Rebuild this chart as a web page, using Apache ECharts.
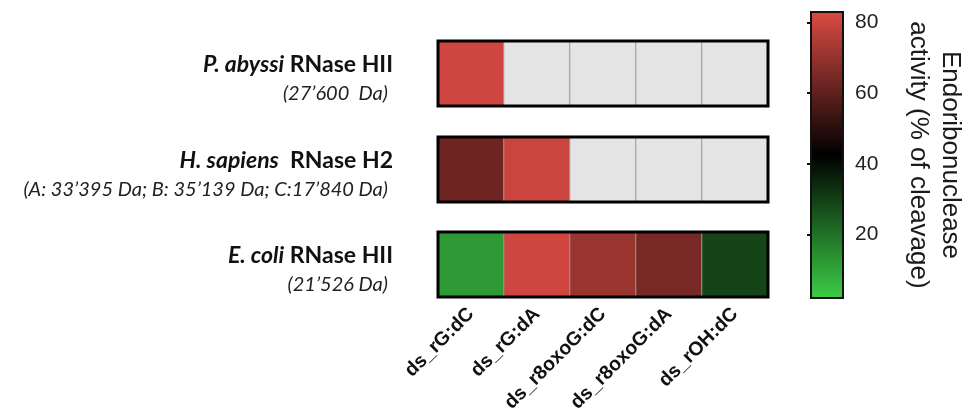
<!DOCTYPE html>
<html>
<head>
<meta charset="utf-8">
<script src="https://cdn.jsdelivr.net/npm/echarts@6/dist/echarts.min.js"></script>
<style>
html, body { margin: 0; padding: 0; background: #fff; }
#main { width: 964px; height: 409px; }
</style>
</head>
<body>
<div id="main"></div>
<script>
// substrates (columns)
var categories = ['ds_rG:dC', 'ds_rG:dA', 'ds_r8oxoG:dC', 'ds_r8oxoG:dA', 'ds_rOH:dC'];
// cleavage % per enzyme, null = not tested (grey)
var pAbyssi = [81, null, null, null, null];
var hSapiens = [63, 80, null, null, null];
var eColi = [12, 81, 71, 65, 29];
var enzymes = [
	{ sp: 'P. abyssi', name: ' RNase HII', sub: '(27’600  Da)' },
	{ sp: 'H. sapiens', name: '  RNase H2', sub: '(A: 33’395 Da; B: 35’139 Da; C:17’840 Da)' },
	{ sp: 'E. coli', name: ' RNase HII', sub: '(21’526 Da)' }
];
var rows = [pAbyssi, hSapiens, eColi];
var barTicks = [20, 40, 60, 80];
var scaleMin = 2, scaleMax = 83;

var myChart = echarts.init(document.getElementById('main'));

var gridTops = [41, 137, 232];
var grids = [], xAxes = [], yAxes = [], series = [];
for (var r = 0; r < rows.length; r++) {
	grids.push({
		left: 438, width: 330, top: gridTops[r], height: 65,
		outerBoundsMode: 'none',
		show: true, borderColor: '#000', borderWidth: 3,
		backgroundColor: 'transparent', z: 10
	});
	xAxes.push({
		type: 'category', gridIndex: r, data: categories,
		axisLine: { show: false }, axisTick: { show: false },
		splitLine: { show: false },
		axisLabel: {
			show: r == rows.length - 1,
			rotate: 45, margin: 14,
			fontFamily: 'Liberation Sans', fontWeight: 'bold',
			fontSize: 19.5, color: '#111'
		}
	});
	yAxes.push({
		type: 'category', gridIndex: r, data: [r],
		axisLine: { show: false }, axisTick: { show: false },
		axisLabel: {
			margin: 45,
			padding: [12, 0, 0, 0],
			formatter: (function (e) {
				return function () {
					return '{sp|' + e.sp + '}{nm|' + e.name + '}\n{sub|' + e.sub + '}';
				};
			})(enzymes[r]),
			rich: {
				sp: { fontFamily: 'Lato', fontStyle: 'italic', fontWeight: 'bold', fontSize: 23, color: '#111', lineHeight: 29 },
				nm: { fontFamily: 'Lato', fontWeight: 'bold', fontSize: 23, color: '#111', lineHeight: 29 },
				sub: { fontFamily: 'Lato', fontStyle: 'italic', fontSize: 20, color: '#222', lineHeight: 29, padding: [0, 5, 0, 0] }
			}
		}
	});
	var vals = [], grey = [];
	for (var i = 0; i < categories.length; i++) {
		if (rows[r][i] == null) grey.push([i, 0, 1]);
		else vals.push([i, 0, rows[r][i]]);
	}
	series.push({
		type: 'heatmap', xAxisIndex: r, yAxisIndex: r, data: vals,
		itemStyle: { borderColor: '#999', borderWidth: 1 },
		emphasis: { disabled: true }
	});
	series.push({
		type: 'heatmap', xAxisIndex: r, yAxisIndex: r, data: grey,
		itemStyle: { color: '#e4e4e4', borderColor: '#999', borderWidth: 1 },
		emphasis: { disabled: true }
	});
}

// colour bar frame + ticks
grids.push({
	left: 811, width: 32, top: 12, height: 286,
	outerBoundsMode: 'none',
	show: true, borderColor: '#111', borderWidth: 2,
	backgroundColor: 'transparent', z: 10
});
xAxes.push({ type: 'value', gridIndex: 3, show: false });
yAxes.push({
	type: 'value', gridIndex: 3, position: 'right',
	min: scaleMin, max: scaleMax,
	axisLine: { show: false },
	splitLine: { show: false },
	axisTick: { inside: true, length: 4, customValues: barTicks, lineStyle: { color: '#111', width: 2 } },
	axisLabel: { customValues: barTicks, margin: 12, fontFamily: 'Liberation Sans', fontSize: 21, color: '#222' },
	name: 'Endoribonuclease\nactivity (% of cleavage)',
	nameLocation: 'middle', nameRotate: -90, nameGap: 59,
	nameTextStyle: { fontFamily: 'Liberation Sans', fontSize: 26, color: '#1a1a1a', lineHeight: 32 }
});
yAxes.push({
	type: 'value', gridIndex: 3, position: 'left',
	min: scaleMin, max: scaleMax,
	axisLine: { show: false },
	splitLine: { show: false },
	axisTick: { inside: true, length: 4, customValues: barTicks, lineStyle: { color: '#111', width: 2 } },
	axisLabel: { show: false }
});

var option = {
	backgroundColor: '#fff',
	animation: false,
	grid: grids,
	xAxis: xAxes,
	yAxis: yAxes,
	visualMap: {
		type: 'continuous',
		min: scaleMin, max: scaleMax,
		seriesIndex: [0, 2, 4],
		calculable: false,
		right: 121, top: 12, padding: 0,
		itemWidth: 32, itemHeight: 286,
		text: null,
		inRange: { color: ['#3ccc46', '#000000', '#da4a43'] }
	},
	series: series
};
myChart.setOption(option);
</script>
</body>
</html>
